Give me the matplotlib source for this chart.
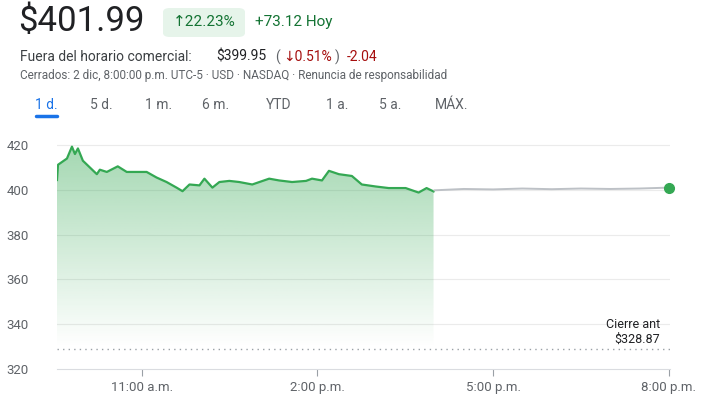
import numpy as np
import matplotlib.pyplot as plt
from matplotlib.patches import FancyBboxPatch

plt.rcParams['font.family'] = ['Roboto', 'DejaVu Sans']

# horas (decimal) y precio durante la sesión
x_px = [57, 58, 67, 72, 75, 78, 83, 90, 97, 100, 107, 118, 127, 137, 147, 157, 167,
        177, 183, 190, 200, 205, 213, 220, 230, 240, 253, 270, 280, 293, 307, 313,
        323, 330, 340, 353, 363, 377, 390, 407, 420, 428, 435]
precio = [404.4, 411.2, 414, 419.3, 416, 418.5, 413, 410, 407, 409, 408, 410.5, 408,
          408, 408, 405.5, 403.5, 401, 399.4, 402.4, 402, 405, 401, 403.5, 404, 403.5,
          402.4, 405, 404.2, 403.5, 404, 405, 404.2, 408.5, 407, 406.2, 402.4, 401.5,
          400.8, 400.8, 398.8, 400.8, 399.3]
horas = [11 + (p - 142) / 58.8 for p in x_px]

# fuera de horario
horas_ext = [16.0, 16.5, 17.0, 17.5, 18.0, 18.5, 19.0, 19.5, 20.0]
precio_ext = [399.8, 400.4, 400.2, 400.6, 400.3, 400.6, 400.4, 400.6, 401.0]

cierre_ant = 328.87
yticks = [320, 340, 360, 380, 400, 420]
xticks = [11, 14, 17, 20]
xlabels = ['11:00 a.m.', '2:00 p.m.', '5:00 p.m.', '8:00 p.m.']

fig = plt.figure(figsize=(7.02, 4.11), dpi=100)
ax = fig.add_axes([57 / 702, 42 / 411, 613 / 702, 234 / 411])
x0 = horas[0]
ax.set_xlim(x0, 20.02)
ax.set_ylim(320, 424.5)

green = '#34a853'
# relleno con degradado
img = np.zeros((256, 1, 4))
img[..., 0] = 0x34 / 255
img[..., 1] = 0xa8 / 255
img[..., 2] = 0x53 / 255
img[:, 0, 3] = np.linspace(0.45, 0.0, 256)
im = ax.imshow(img, extent=[x0, horas[-1], 330, 420], aspect='auto', zorder=1)
poly = ax.fill_between(horas, precio, 330, color='none')
im.set_clip_path(poly.get_paths()[0], transform=ax.transData)

ax.plot(horas, precio, color=green, lw=1.6, zorder=3)
ax.plot(horas_ext, precio_ext, color='#bdc1c6', lw=1.4, zorder=3)
ax.plot(horas_ext[-1], precio_ext[-1], 'o', color=green, ms=7, zorder=4, clip_on=False)

ax.axhline(cierre_ant, color='#9aa0a6', lw=1, ls=(0, (1, 3)), zorder=2)
ax.text(19.85, cierre_ant + 1.5, 'Cierre ant\n$328.87', ha='right', va='bottom',
        fontsize=9, color='#202124', linespacing=1.2)

for v in yticks[1:]:
    ax.axhline(v, color='#ebebeb', lw=0.8, zorder=0)
ax.set_yticks(yticks)
ax.set_xticks(xticks, xlabels)
for s in ['top', 'right', 'left']:
    ax.spines[s].set_visible(False)
ax.spines['bottom'].set_color('#dadce0')
ax.tick_params(axis='y', length=0, labelsize=9.5, labelcolor='#5f6368', pad=10)
ax.tick_params(axis='x', length=5, color='#9aa0a6', labelsize=9.5, labelcolor='#5f6368')
for lab in ax.get_yticklabels():
    lab.set_horizontalalignment('left')
    lab.set_x(-0.06)

# cabecera
fig.text(18 / 702, 1 - 22 / 411, '$401.99', fontsize=25, color='#202124', va='center')
box = FancyBboxPatch((163 / 702, 1 - 37 / 411), 82 / 702, 29 / 411,
                     boxstyle='round,pad=0,rounding_size=0.01', transform=fig.transFigure,
                     facecolor='#e6f4ea', edgecolor='none')
fig.patches.append(box)
fig.text(204 / 702, 1 - 22 / 411, '↑22.23%', fontsize=11, color='#137333', ha='center', va='center')
fig.text(255 / 702, 1 - 22 / 411, '+73.12 Hoy', fontsize=11, color='#137333', va='center')
fig.text(20 / 702, 1 - 57 / 411, 'Fuera del horario comercial:', fontsize=10, color='#3c4043', va='center')
fig.text(216 / 702, 1 - 57 / 411, '$399.95', fontsize=10, color='#202124', va='center')
fig.text(275 / 702, 1 - 57 / 411, '(', fontsize=10, color='#5f6368', va='center')
fig.text(283 / 702, 1 - 57 / 411, '↓0.51%', fontsize=10, color='#a50e0e', va='center')
fig.text(335 / 702, 1 - 57 / 411, ')', fontsize=10, color='#5f6368', va='center')
fig.text(347 / 702, 1 - 57 / 411, '-2.04', fontsize=10, color='#a50e0e', va='center')
fig.text(20 / 702, 1 - 76 / 411,
         'Cerrados: 2 dic, 8:00:00 p.m. UTC-5 · USD · NASDAQ · Renuncia de responsabilidad',
         fontsize=8.5, color='#5f6368', va='center')

tabs = ['1 d.', '5 d.', '1 m.', '6 m.', 'YTD', '1 a.', '5 a.', 'MÁX.']
tab_x = [46, 101, 159, 216, 279, 337, 390, 452]
for i, (t, tx) in enumerate(zip(tabs, tab_x)):
    fig.text(tx / 702, 1 - 105 / 411, t, fontsize=10, ha='center', va='center',
             color='#1a73e8' if i == 0 else '#5f6368')
fig.add_artist(plt.Line2D([36 / 702, 57 / 702], [1 - 116 / 411] * 2, color='#1a73e8', lw=2.5,
                          transform=fig.transFigure, solid_capstyle='round'))

fig.savefig('out.png', dpi=100)
